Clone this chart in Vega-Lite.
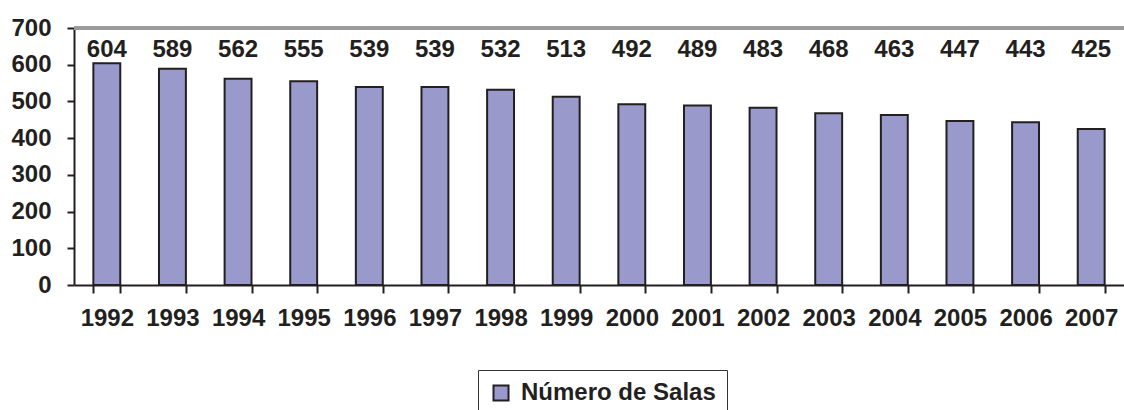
{
  "$schema": "https://vega.github.io/schema/vega-lite/v6.json",
  "autosize": "none",
  "width": 1050,
  "height": 257,
  "padding": {"left": 74, "top": 28, "right": 0, "bottom": 125},
  "background": "white",
  "config": {
    "view": {"stroke": null},
    "font": "Liberation Sans",
    "text": {"font": "Liberation Sans"},
    "axisY": {
      "title": null, "values": [0, 100, 200, 300, 400, 500, 600, 700],
      "grid": false,
      "labelOverlap": false, "labelFlush": false,
      "labelFont": "Liberation Sans", "labelFontWeight": "bold", "labelFontSize": 24,
      "labelColor": "#231F20", "labelPadding": 16,
      "domainColor": "#231F20", "domainWidth": 2,
      "tickColor": "#231F20", "tickWidth": 2, "tickSize": 7
    },
    "axisX": {
      "title": null, "labelAngle": 0, "tickBand": "extent",
      "labelFont": "Liberation Sans", "labelFontWeight": "bold", "labelFontSize": 24,
      "labelColor": "#231F20", "labelPadding": 13, "labelOverlap": false,
      "domainColor": "#231F20", "domainWidth": 2,
      "tickColor": "#231F20", "tickWidth": 2, "tickSize": 8
    }
  },
  "data": {
    "values": [
      {"year": "1992", "salas": 604},
      {"year": "1993", "salas": 589},
      {"year": "1994", "salas": 562},
      {"year": "1995", "salas": 555},
      {"year": "1996", "salas": 539},
      {"year": "1997", "salas": 539},
      {"year": "1998", "salas": 532},
      {"year": "1999", "salas": 513},
      {"year": "2000", "salas": 492},
      {"year": "2001", "salas": 489},
      {"year": "2002", "salas": 483},
      {"year": "2003", "salas": 468},
      {"year": "2004", "salas": 463},
      {"year": "2005", "salas": 447},
      {"year": "2006", "salas": 443},
      {"year": "2007", "salas": 425}
    ]
  },
  "layer": [
    {
      "mark": {"type": "rule", "stroke": "#9a9a9a", "strokeWidth": 3},
      "encoding": {
        "y": {"datum": 699, "type": "quantitative", "scale": {"domain": [0, 700], "nice": false}, "axis": {"title": null, "values": [0, 100, 200, 300, 400, 500, 600, 700], "labelOverlap": false}}
      }
    },
    {
      "mark": {"type": "bar", "stroke": "#231F20", "strokeWidth": 2},
      "encoding": {
        "x": {
          "field": "year", "type": "nominal",
          "scale": {"paddingInner": 0.59, "paddingOuter": 0.295},
          "axis": {"title": null, "labelAngle": 0, "tickBand": "extent", "labelOverlap": false}
        },
        "y": {
          "field": "salas", "type": "quantitative",
          "scale": {"domain": [0, 700], "nice": false},
          "axis": {"title": null, "values": [0, 100, 200, 300, 400, 500, 600, 700], "labelOverlap": false}
        },
        "color": {
          "datum": "Número de Salas",
          "scale": {"range": ["#9999CC"]},
          "legend": {
            "title": null, "orient": "none", "legendX": 404, "legendY": 342,
            "strokeColor": "#333333", "padding": 11,
            "symbolType": "square", "symbolSize": 225, "symbolStrokeColor": "#231F20",
            "symbolStrokeWidth": 2, "symbolOpacity": 1,
            "labelFont": "Liberation Sans", "labelFontWeight": "bold", "labelFontSize": 24,
            "labelColor": "#231F20", "labelOffset": 8, "labelLimit": 400
          }
        }
      }
    },
    {
      "mark": {"type": "text", "font": "Liberation Sans", "fontWeight": "bold", "fontSize": 24, "color": "#231F20", "baseline": "alphabetic"},
      "encoding": {
        "x": {
          "field": "year", "type": "nominal",
          "axis": {"title": null, "labelAngle": 0, "tickBand": "extent", "labelOverlap": false}
        },
        "y": {"datum": 620, "type": "quantitative", "axis": {"title": null, "values": [0, 100, 200, 300, 400, 500, 600, 700], "labelOverlap": false}},
        "text": {"field": "salas", "type": "quantitative"}
      }
    }
  ]
}
